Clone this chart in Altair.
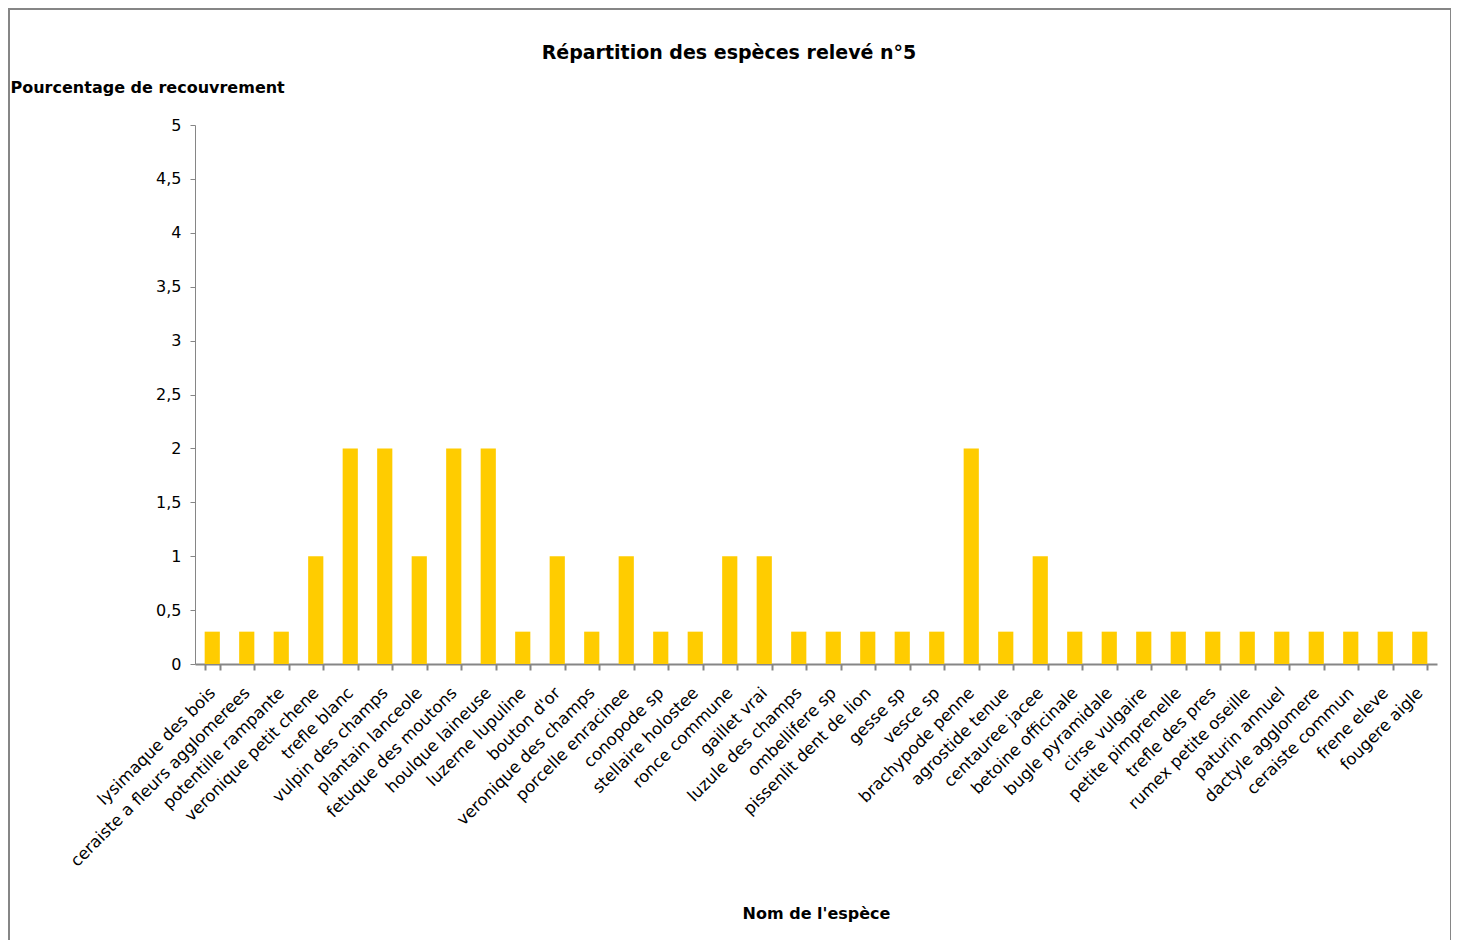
import altair as alt
import pandas as pd

species = [
    "lysimaque des bois", "ceraiste a fleurs agglomerees", "potentille rampante",
    "veronique petit chene", "trefle blanc", "vulpin des champs", "plantain lanceole",
    "fetuque des moutons", "houlque laineuse", "luzerne lupuline", "bouton d'or",
    "veronique des champs", "porcelle enracinee", "conopode sp", "stellaire holostee",
    "ronce commune", "gaillet vrai", "luzule des champs", "ombellifere sp",
    "pissenlit dent de lion", "gesse sp", "vesce sp", "brachypode penne",
    "agrostide tenue", "centauree jacee", "betoine officinale", "bugle pyramidale",
    "cirse vulgaire", "petite pimprenelle", "trefle des pres", "rumex petite oseille",
    "paturin annuel", "dactyle agglomere", "ceraiste commun", "frene eleve", "fougere aigle",
]
values = [
    0.3, 0.3, 0.3, 1, 2, 2, 1, 2, 2, 0.3, 1, 0.3, 1, 0.3, 0.3, 1, 1, 0.3,
    0.3, 0.3, 0.3, 0.3, 2, 0.3, 1, 0.3, 0.3, 0.3, 0.3, 0.3, 0.3, 0.3, 0.3, 0.3, 0.3, 0.3,
]
y_ticks = [0, 0.5, 1, 1.5, 2, 2.5, 3, 3.5, 4, 4.5, 5]

df = pd.DataFrame({"espece": species, "pct": values})

FONT = "DejaVu Sans"

bars = alt.Chart(df).mark_bar(color="#FFCC00").encode(
    x=alt.X(
        "espece:N",
        sort=None,
        scale=alt.Scale(paddingInner=0.56, paddingOuter=0.28),
        axis=alt.Axis(
            title="Nom de l'espèce",
            titleFontSize=16, titleFontWeight="bold", titleFont=FONT, titleColor="#000",
            titleY=249, titleBaseline="middle",
            labelAngle=-45, labelAlign="right", labelBaseline="middle",
            labelFontSize=16.5, labelFont=FONT, labelColor="#000", labelPadding=20,
            labelOverlap=False, labelLimit=0,
            tickBand="extent", tickSize=6, tickColor="#868686", tickWidth=2,
            domainColor="#868686", domainWidth=2,
        ),
    ),
    y=alt.Y(
        "pct:Q",
        scale=alt.Scale(domain=[0, 5], nice=False),
        axis=alt.Axis(
            values=y_ticks,
            format="~g",
            labelExpr="replace(datum.label, '.', ',')",
            title="Pourcentage de recouvrement",
            titleAngle=0, titleAlign="left", titleBaseline="middle",
            titleX=-185, titleY=-38,
            titleFontSize=16, titleFontWeight="bold", titleFont=FONT, titleColor="#000",
            labelFontSize=16, labelFont=FONT, labelColor="#000", labelPadding=9,
            grid=False, tickSize=5, tickColor="#868686", domainColor="#868686",
        ),
    ),
)

frame = alt.Chart(pd.DataFrame({"a": [0]})).mark_rect(
    fill="transparent", stroke="#868686", strokeWidth=2, clip=False
).encode(
    x=alt.value(-186), x2=alt.value(1256), y=alt.value(-116), y2=alt.value(840)
)

chart = alt.layer(bars, frame).properties(
    width=1242,
    height=539,
    background="white",
    padding={"left": 187, "top": 117, "right": 14, "bottom": 276},
    autosize=alt.AutoSizeParams(type="none"),
    title=alt.Title(
        "Répartition des espèces relevé n°5",
        fontSize=19, fontWeight="bold", font=FONT, color="#000",
        anchor="middle", dx=-87, offset=-55,
    ),
).configure_view(stroke="transparent", strokeWidth=0)

chart.save("out.html", embed_options={"renderer": "svg", "actions": False})
